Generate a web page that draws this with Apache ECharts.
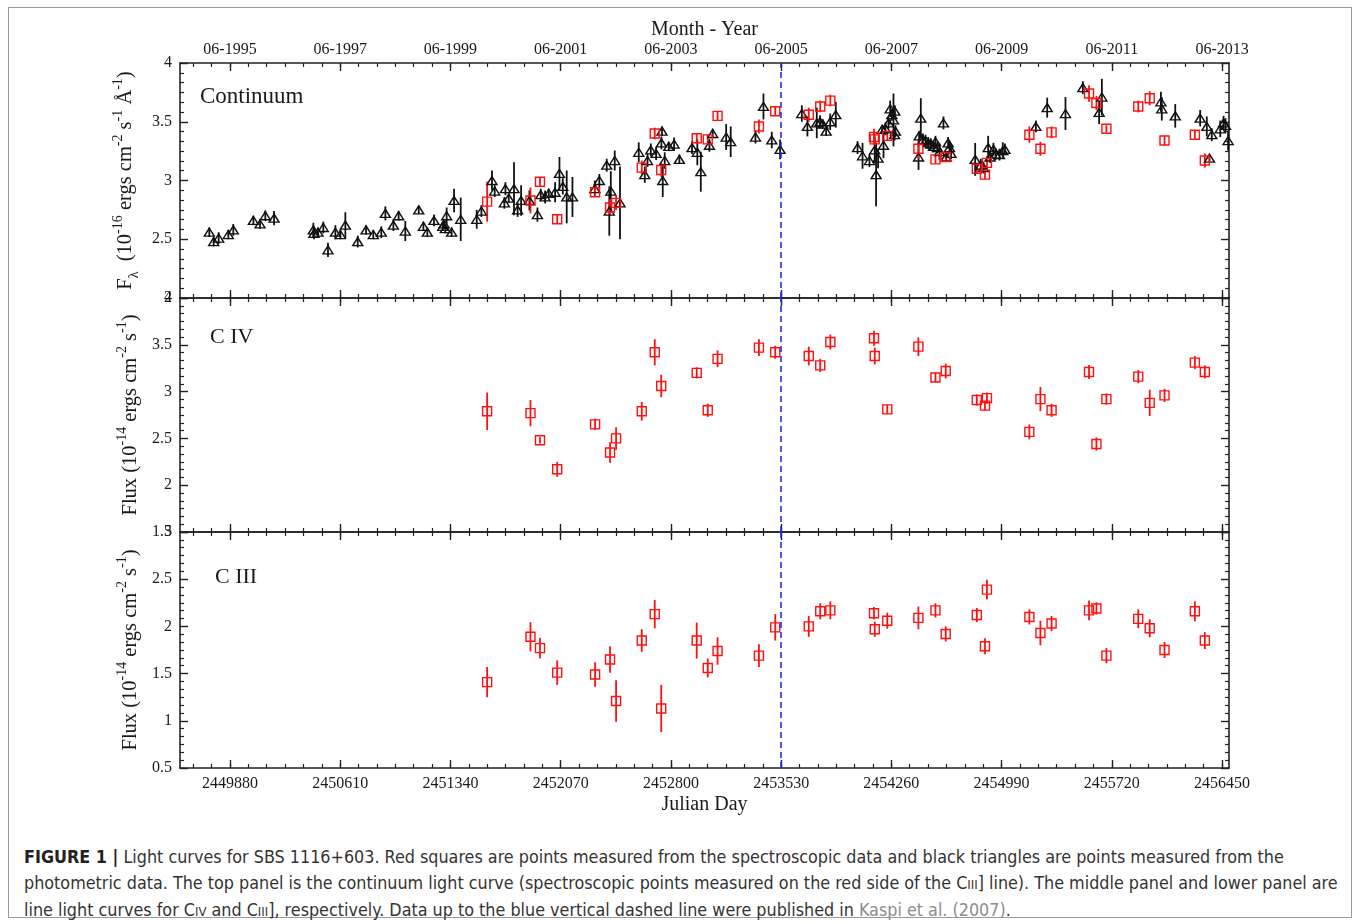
<!DOCTYPE html>
<html>
<head>
<meta charset="utf-8">
<script src="https://cdn.jsdelivr.net/npm/echarts@6/dist/echarts.min.js"></script>
<style>
  html, body { margin: 0; padding: 0; background: #fff; }
  #frame { position: absolute; left: 8px; top: 7px; width: 1344px; height: 911px; border: 1px solid #9a9a9a; box-sizing: border-box; }
  #chart { position: absolute; left: 0; top: 0; width: 1360px; height: 830px; }
  #caption { position: absolute; left: 24px; top: 844px; width: 1320px; color: #333;
    font-family: "Liberation Sans Narrow", "DejaVu Sans Condensed", "Liberation Sans", sans-serif;
    font-size: 17.8px; line-height: 25.5px; white-space: nowrap; }
  #caption b { color: #222; }
  #caption .sc { font-size: 13px; }
  #caption .ref { color: #8c8c8c; }
</style>
</head>
<body>
<div id="frame"></div>
<div id="chart"></div>
<div id="caption"><b>FIGURE 1 |</b> Light curves for SBS 1116+603. Red squares are points measured from the spectroscopic data and black triangles are points measured from the<br>photometric data. The top panel is the continuum light curve (spectroscopic points measured on the red side of the C<span class="sc">III</span>] line). The middle panel and lower panel are<br>line light curves for C<span class="sc">IV</span> and C<span class="sc">III</span>], respectively. Data up to the blue vertical dashed line were published in <span class="ref">Kaspi et al. (2007)</span>.</div>
<script>
// x axis (Julian Day) ticks and the matching month labels on top
var jdTicks = [2449880, 2450610, 2451340, 2452070, 2452800, 2453530, 2454260, 2454990, 2455720, 2456450]
var monthTicks = ['06-1995', '06-1997', '06-1999', '06-2001', '06-2003', '06-2005', '06-2007', '06-2009', '06-2011', '06-2013']
var xMin = 2449549
var xMax = 2456496
var kaspiJD = 2453530 // blue dashed line

// spectroscopic epochs (red squares, same in all panels)
var specJD = [2451583, 2451870, 2451933, 2452047, 2452298, 2452397, 2452437, 2452607, 2452693, 2452736,
  2452971, 2453044, 2453109, 2453383, 2453491, 2453713, 2453789, 2453856, 2454145, 2454150,
  2454233, 2454439, 2454552, 2454620, 2454826, 2454880, 2454893, 2455174, 2455247, 2455321,
  2455569, 2455618, 2455684, 2455895, 2455971, 2456069, 2456270, 2456336]
var contSpec = [2.82, 2.83, 2.99, 2.67, 2.90, 2.77, 2.81, 3.11, 3.40, 3.09,
  3.36, 3.35, 3.55, 3.46, 3.59, 3.56, 3.63, 3.68, 3.37, 3.35,
  3.38, 3.27, 3.18, 3.20, 3.10, 3.05, 3.15, 3.39, 3.27, 3.41,
  3.74, 3.66, 3.44, 3.63, 3.70, 3.34, 3.39, 3.17]
var contSpecErr = [0.17, 0.11, 0.035, 0.04, 0.04, 0.07, 0.06, 0.06, 0.05, 0.06,
  0.035, 0.04, 0.035, 0.06, 0.04, 0.06, 0.05, 0.05, 0.07, 0.05,
  0.04, 0.085, 0.035, 0.04, 0.04, 0.04, 0.06, 0.07, 0.06, 0.05,
  0.07, 0.06, 0.03, 0.05, 0.06, 0.04, 0.035, 0.06]
var civFlux = [2.79, 2.77, 2.48, 2.17, 2.65, 2.35, 2.50, 2.79, 3.42, 3.06,
  3.20, 2.80, 3.35, 3.47, 3.42, 3.38, 3.28, 3.53, 3.57, 3.38,
  2.81, 3.48, 3.15, 3.22, 2.91, 2.85, 2.93, 2.57, 2.92, 2.80,
  3.21, 2.44, 2.92, 3.16, 2.88, 2.96, 3.31, 3.21]
var civErr = [0.20, 0.14, 0.035, 0.08, 0.06, 0.11, 0.12, 0.10, 0.14, 0.12,
  0.06, 0.07, 0.09, 0.09, 0.07, 0.10, 0.07, 0.08, 0.08, 0.09,
  0.05, 0.10, 0.05, 0.08, 0.06, 0.05, 0.06, 0.08, 0.13, 0.07,
  0.075, 0.07, 0.06, 0.07, 0.14, 0.07, 0.07, 0.07]
var ciiiFlux = [1.41, 1.89, 1.77, 1.51, 1.49, 1.65, 1.21, 1.85, 2.13, 1.13,
  1.85, 1.56, 1.74, 1.69, 1.99, 2.00, 2.16, 2.17, 2.14, 1.97,
  2.06, 2.09, 2.17, 1.92, 2.12, 1.79, 2.39, 2.10, 1.93, 2.03,
  2.17, 2.19, 1.69, 2.08, 1.98, 1.75, 2.16, 1.85]
var ciiiErr = [0.16, 0.155, 0.11, 0.13, 0.13, 0.14, 0.22, 0.12, 0.15, 0.25,
  0.19, 0.10, 0.145, 0.12, 0.14, 0.11, 0.085, 0.095, 0.065, 0.08,
  0.085, 0.12, 0.075, 0.08, 0.075, 0.085, 0.105, 0.08, 0.13, 0.08,
  0.105, 0.065, 0.08, 0.10, 0.095, 0.085, 0.105, 0.09]

// photometric continuum (black triangles)
var photJD = [2449743, 2449772, 2449805, 2449869, 2449902, 2450035, 2450079, 2450114, 2450172, 2450432,
  2450436, 2450463, 2450498, 2450529, 2450578, 2450611, 2450644, 2450726, 2450781, 2450829,
  2450882, 2450909, 2450962, 2450997, 2451041, 2451130, 2451161, 2451187, 2451231, 2451289,
  2451298, 2451306, 2451315, 2451348, 2451364, 2451408, 2451514, 2451545, 2451615, 2451633,
  2451697, 2451704, 2451726, 2451761, 2451785, 2451808, 2451863, 2451916, 2451938, 2451967,
  2451991, 2452033, 2452062, 2452084, 2452110, 2452148, 2452296, 2452326, 2452375, 2452392,
  2452402, 2452428, 2452463, 2452587, 2452627, 2452645, 2452667, 2452702, 2452737, 2452741,
  2452746, 2452759, 2452786, 2452821, 2452856, 2452940, 2452975, 2452998, 2453055, 2453077,
  2453166, 2453196, 2453360, 2453413, 2453468, 2453523, 2453667, 2453704, 2453766, 2453788,
  2453806, 2453828, 2453855, 2453892, 2454036, 2454069, 2454115, 2454150, 2454159, 2454172,
  2454199, 2454208, 2454221, 2454241, 2454252, 2454263, 2454274, 2454281, 2454283, 2454287,
  2454440, 2454444, 2454455, 2454469, 2454486, 2454504, 2454521, 2454539, 2454552, 2454565,
  2454579, 2454605, 2454623, 2454636, 2454645, 2454655, 2454815, 2454852, 2454870, 2454901,
  2454914, 2454936, 2454950, 2454976, 2454998, 2455012, 2455217, 2455292, 2455413, 2455528,
  2455636, 2455654, 2456045, 2456051, 2456140, 2456305, 2456349, 2456367, 2456382, 2456438,
  2456460, 2456473, 2456490]
var photFlux = [2.56, 2.48, 2.51, 2.54, 2.58, 2.66, 2.63, 2.70, 2.68, 2.58,
  2.55, 2.56, 2.60, 2.41, 2.56, 2.54, 2.62, 2.48, 2.58, 2.54,
  2.56, 2.72, 2.62, 2.70, 2.57, 2.75, 2.61, 2.56, 2.66, 2.61,
  2.63, 2.59, 2.70, 2.56, 2.83, 2.67, 2.67, 2.74, 3.00, 2.91,
  2.81, 2.93, 2.85, 2.93, 2.75, 2.83, 2.83, 2.71, 2.88, 2.86,
  2.89, 2.90, 3.06, 2.95, 2.86, 2.86, 2.93, 3.00, 3.13, 2.74,
  2.91, 3.17, 2.81, 3.24, 3.05, 3.17, 3.26, 3.23, 3.32, 3.42,
  3.00, 3.17, 3.29, 3.31, 3.18, 3.28, 3.24, 3.075, 3.30, 3.40,
  3.37, 3.33, 3.37, 3.63, 3.345, 3.265, 3.57, 3.46, 3.49, 3.50,
  3.48, 3.42, 3.50, 3.56, 3.28, 3.21, 3.17, 3.26, 3.05, 3.19,
  3.435, 3.30, 3.44, 3.49, 3.61, 3.56, 3.515, 3.39, 3.59, 3.42,
  3.20, 3.38, 3.53, 3.345, 3.34, 3.32, 3.31, 3.29, 3.33, 3.28,
  3.245, 3.49, 3.20, 3.32, 3.28, 3.23, 3.18, 3.13, 3.11, 3.28,
  3.20, 3.265, 3.225, 3.22, 3.255, 3.265, 3.46, 3.62, 3.57, 3.79,
  3.58, 3.71, 3.67, 3.61, 3.55, 3.53, 3.46, 3.19, 3.39, 3.44,
  3.49, 3.47, 3.34]
var photErr = [0.04, 0.04, 0.05, 0.04, 0.05, 0.04, 0.04, 0.045, 0.06, 0.06,
  0.05, 0.04, 0.05, 0.06, 0.06, 0.04, 0.11, 0.05, 0.04, 0.04,
  0.05, 0.06, 0.05, 0.04, 0.085, 0.035, 0.04, 0.04, 0.05, 0.04,
  0.04, 0.04, 0.07, 0.04, 0.10, 0.185, 0.08, 0.05, 0.085, 0.05,
  0.05, 0.055, 0.04, 0.225, 0.06, 0.13, 0.085, 0.06, 0.05, 0.055,
  0.04, 0.085, 0.14, 0.07, 0.225, 0.17, 0.07, 0.055, 0.055, 0.21,
  0.17, 0.085, 0.31, 0.085, 0.07, 0.055, 0.055, 0.055, 0.055, 0.04,
  0.14, 0.07, 0.04, 0.055, 0.04, 0.055, 0.11, 0.17, 0.055, 0.04,
  0.11, 0.13, 0.055, 0.11, 0.07, 0.085, 0.07, 0.085, 0.13, 0.055,
  0.04, 0.04, 0.07, 0.11, 0.055, 0.11, 0.055, 0.11, 0.27, 0.085,
  0.04, 0.11, 0.055, 0.05, 0.07, 0.05, 0.225, 0.05, 0.05, 0.05,
  0.11, 0.04, 0.17, 0.055, 0.05, 0.05, 0.05, 0.05, 0.05, 0.05,
  0.07, 0.055, 0.04, 0.05, 0.05, 0.05, 0.14, 0.055, 0.05, 0.10,
  0.05, 0.055, 0.05, 0.05, 0.07, 0.05, 0.05, 0.085, 0.14, 0.055,
  0.10, 0.155, 0.085, 0.10, 0.10, 0.07, 0.085, 0.03, 0.055, 0.07,
  0.06, 0.06, 0.085]

var serif = '"Liberation Serif", "Times New Roman", serif'
var axisColor = '#222'
var grids = [
  { left: 180, width: 1049, top: 63, height: 235 },
  { left: 180, width: 1049, top: 298, height: 234 },
  { left: 180, width: 1049, top: 532, height: 236 },
]
var yRanges = [[2, 4], [1.5, 4], [0.5, 3]]

// minor x ticks, 6 divisions per 730 days
var minorStep = (jdTicks[1] - jdTicks[0]) / 6
var minorTicks = []
for (var t = jdTicks[0]; t >= xMin; t -= minorStep) minorTicks.unshift(t)
for (var t2 = jdTicks[0] + minorStep; t2 <= xMax; t2 += minorStep) minorTicks.push(t2)

var supRich = {
  t: { fontFamily: serif, fontSize: 20.5, color: '#1a1a1a', lineHeight: 30 },
  sup: { fontFamily: serif, fontSize: 14, color: '#1a1a1a', verticalAlign: 'top' },
  sub: { fontFamily: serif, fontSize: 14, color: '#1a1a1a', verticalAlign: 'bottom' },
}
var yNames = [
  '{t|F}{sub|λ}{t|  (10}{sup|-16}{t| ergs cm}{sup|-2}{t| s}{sup|-1}{t| Å}{sup|-1}{t|)}',
  '{t|Flux (10}{sup|-14}{t| ergs cm}{sup|-2}{t| s}{sup|-1}{t|)}',
  '{t|Flux (10}{sup|-14}{t| ergs cm}{sup|-2}{t| s}{sup|-1}{t|)}',
]

var xAxes = []
var yAxes = []
grids.forEach(function (g, i) {
  var base = { gridIndex: i, type: 'value', min: xMin, max: xMax, splitLine: { show: false } }
  var line = { show: true, lineStyle: { color: axisColor, width: 1.6 } }
  // bottom, major
  xAxes.push(Object.assign({}, base, {
    position: 'bottom',
    axisLine: line,
    axisTick: { inside: true, length: 8, customValues: jdTicks, lineStyle: { color: axisColor, width: 1.4 } },
    axisLabel: {
      show: i === 2, customValues: jdTicks, fontFamily: serif, fontSize: 16, color: '#1a1a1a', margin: 8,
      formatter: function (v) { return String(v) },
    },
    name: i === 2 ? 'Julian Day' : '',
    nameLocation: 'middle',
    nameGap: 27,
    nameTextStyle: { fontFamily: serif, fontSize: 20, color: '#1a1a1a' },
  }))
  // bottom, minor
  xAxes.push(Object.assign({}, base, {
    position: 'bottom',
    axisLine: { show: false },
    axisTick: { inside: true, length: 4, customValues: minorTicks, lineStyle: { color: axisColor, width: 1.2 } },
    axisLabel: { show: false },
  }))
  // top, major
  xAxes.push(Object.assign({}, base, {
    position: 'top',
    axisLine: line,
    axisTick: { inside: true, length: 8, customValues: jdTicks, lineStyle: { color: axisColor, width: 1.4 } },
    axisLabel: {
      show: i === 0, customValues: jdTicks, fontFamily: serif, fontSize: 16, color: '#1a1a1a', margin: 5,
      formatter: function (v) {
        var k = jdTicks.indexOf(v)
        return k >= 0 ? monthTicks[k] : ''
      },
    },
    name: i === 0 ? 'Month - Year' : '',
    nameLocation: 'middle',
    nameGap: 23,
    nameTextStyle: { fontFamily: serif, fontSize: 20, color: '#1a1a1a' },
  }))
  // top, minor
  xAxes.push(Object.assign({}, base, {
    position: 'top',
    axisLine: { show: false },
    axisTick: { inside: true, length: 4, customValues: minorTicks, lineStyle: { color: axisColor, width: 1.2 } },
    axisLabel: { show: false },
  }))

  var ybase = {
    gridIndex: i, type: 'value', min: yRanges[i][0], max: yRanges[i][1], interval: 0.5,
    splitLine: { show: false },
    axisLine: line,
    axisTick: { inside: true, length: 8, lineStyle: { color: axisColor, width: 1.4 } },
    minorTick: { show: true, splitNumber: 6, length: 4, lineStyle: { color: axisColor, width: 1.2 } },
  }
  yAxes.push(Object.assign({}, ybase, {
    position: 'left',
    axisLabel: { fontFamily: serif, fontSize: 16, color: '#1a1a1a', margin: 8 },
    name: yNames[i],
    nameLocation: 'middle',
    nameRotate: 90,
    nameGap: 30,
    nameTextStyle: { rich: supRich },
  }))
  yAxes.push(Object.assign({}, ybase, { position: 'right', axisLabel: { show: false } }))
})

function errorBars(i, jd, vals, errs, color) {
  return {
    type: 'custom',
    xAxisIndex: 4 * i,
    yAxisIndex: 2 * i,
    silent: true,
    clip: true,
    data: jd.map(function (x, k) { return [x, vals[k], errs[k]] }),
    encode: { x: 0, y: 1 },
    renderItem: function (params, api) {
      var x = api.value(0)
      var y = api.value(1)
      var e = api.value(2)
      var a = api.coord([x, y - e])
      var b = api.coord([x, y + e])
      return {
        type: 'line',
        shape: { x1: a[0], y1: a[1], x2: b[0], y2: b[1] },
        style: { stroke: color, lineWidth: 1.8 },
      }
    },
  }
}

function markers(i, jd, vals, symbol, size, color, withLine) {
  var s = {
    type: 'scatter',
    xAxisIndex: 4 * i,
    yAxisIndex: 2 * i,
    silent: true,
    symbol: symbol,
    symbolSize: size,
    data: jd.map(function (x, k) { return [x, vals[k]] }),
    itemStyle: { color: 'rgba(255,255,255,0)', borderColor: color, borderWidth: 1.4, opacity: 1 },
  }
  if (withLine) {
    s.markLine = {
      silent: true,
      symbol: ['none', 'none'],
      label: { show: false },
      lineStyle: { color: '#2b2be0', type: [6, 4], width: 1.6 },
      data: [{ xAxis: kaspiJD }],
    }
  }
  return s
}

var series = [
  errorBars(0, photJD, photFlux, photErr, '#111'),
  markers(0, photJD, photFlux, 'triangle', [10, 8], '#111', false),
  errorBars(0, specJD, contSpec, contSpecErr, '#ff1010'),
  markers(0, specJD, contSpec, 'rect', 9, '#ff1010', true),
  errorBars(1, specJD, civFlux, civErr, '#ff1010'),
  markers(1, specJD, civFlux, 'rect', 9, '#ff1010', true),
  errorBars(2, specJD, ciiiFlux, ciiiErr, '#ff1010'),
  markers(2, specJD, ciiiFlux, 'rect', 9, '#ff1010', true),
]

var chart = echarts.init(document.getElementById('chart'))
chart.setOption({
  animation: false,
  backgroundColor: 'transparent',
  grid: grids,
  xAxis: xAxes,
  yAxis: yAxes,
  series: series,
  graphic: [
    { type: 'text', left: 200, top: 85, style: { text: 'Continuum', font: '23px ' + serif, fill: '#1a1a1a' } },
    { type: 'text', left: 210, top: 326, style: { text: 'C IV', font: '22px ' + serif, fill: '#1a1a1a' } },
    { type: 'text', left: 215, top: 566, style: { text: 'C III', font: '22px ' + serif, fill: '#1a1a1a' } },
  ],
})
window.addEventListener('resize', function () { chart.resize() })
</script>
</body>
</html>
